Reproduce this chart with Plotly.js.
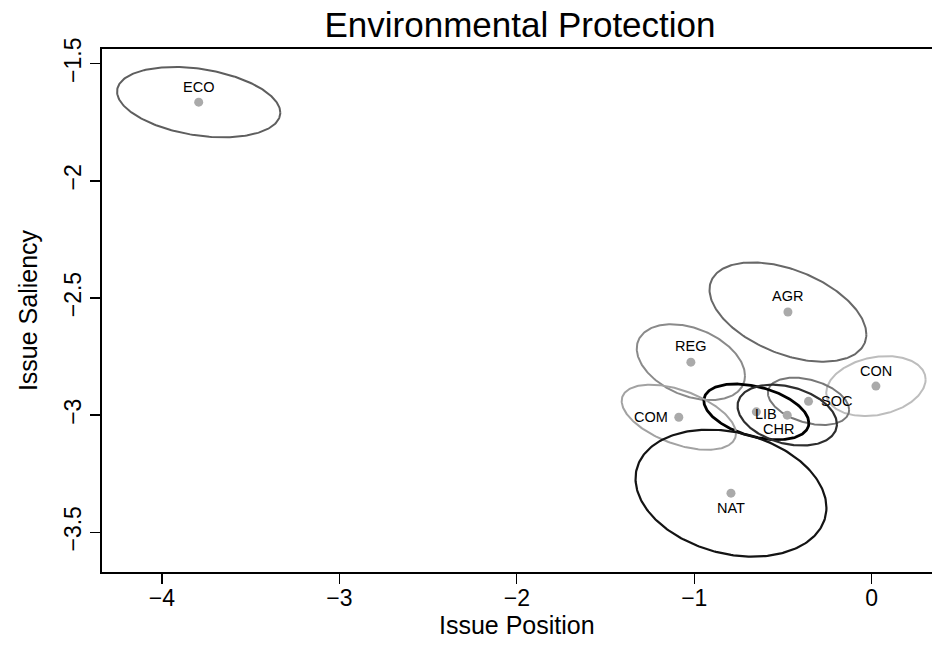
<!DOCTYPE html>
<html>
<head>
<meta charset="utf-8">
<script src="https://cdn.plot.ly/plotly-3.0.1.min.js"></script>
<style>
html,body{margin:0;padding:0;background:#fff;}
#chart{width:932px;height:653px;}
</style>
</head>
<body>
<div id="chart"></div>
<script>
// Party labels
var parties = ["ECO", "AGR", "REG", "CON", "SOC", "LIB", "CHR", "COM", "NAT"];
// Point estimates (issue position, issue saliency)
var posX = [-3.793, -0.472, -1.019, 0.024, -0.356, -0.650, -0.476, -1.087, -0.793];
var posY = [-1.664, -2.560, -2.774, -2.876, -2.941, -2.986, -3.000, -3.009, -3.333];
// Confidence ellipse half-extents (x and y units) and correlation
var ellA   = [0.460, 0.442, 0.305, 0.280, 0.229, 0.296, 0.280, 0.322, 0.538];
var ellB   = [0.150, 0.212, 0.162, 0.128, 0.101, 0.119, 0.130, 0.139, 0.271];
var ellRho = [-0.30, -0.45, -0.36, 0.22, -0.36, -0.40, -0.30, -0.50, -0.23];

// styles
var ellColors = ["#5e5e5e", "#686868", "#8a8a8a", "#bdbdbd", "#777777", "#000000", "#2e2e2e", "#a2a2a2", "#141414"];
var ellWidths = [2, 2, 2, 2, 2, 2.8, 2.2, 2, 2.2];
var labelShift = {
  ECO: [0, 15.5, "center"], AGR: [0, 15.7, "center"], REG: [0, 15.7, "center"],
  CON: [0, 15.3, "center"], NAT: [0, -15.3, "center"], COM: [-9, 0, "right"],
  SOC: [10, 0, "left"], LIB: [10, -2, "center"], CHR: [-9, -14, "center"]
};

var traces = [];
var N = 240;
for (var i = 0; i < parties.length; i++) {
  var xs = [], ys = [];
  var s = Math.sqrt(1 - ellRho[i] * ellRho[i]);
  for (var k = 0; k <= N; k++) {
    var t = 2 * Math.PI * k / N;
    xs.push(posX[i] + ellA[i] * Math.cos(t));
    ys.push(posY[i] + ellB[i] * (ellRho[i] * Math.cos(t) + s * Math.sin(t)));
  }
  traces.push({
    type: "scatter", mode: "lines", x: xs, y: ys,
    line: {color: ellColors[i], width: ellWidths[i]},
    hoverinfo: "skip", showlegend: false
  });
}
traces.push({
  type: "scatter", mode: "markers", x: posX, y: posY, text: parties,
  marker: {color: "#aaaaaa", size: 9}, showlegend: false, hoverinfo: "text"
});

var F = "Liberation Sans, Arial, sans-serif";
var annotations = parties.map(function (p, i) {
  var sh = labelShift[p];
  return {
    x: posX[i], y: posY[i], xref: "x", yref: "y", text: p, showarrow: false,
    xanchor: sh[2], yanchor: "middle", xshift: sh[0], yshift: sh[1],
    font: {family: F, size: 14.5, color: "#000"}
  };
});
// x-axis title
annotations.push({
  text: "Issue Position", xref: "paper", yref: "paper", x: 0.5, y: (572 - 625) / 523,
  xanchor: "center", yanchor: "middle", showarrow: false,
  font: {family: F, size: 25, color: "#000"}
});

var layout = {
  width: 932, height: 653,
  margin: {l: 102, r: 0, t: 49, b: 81, pad: 0},
  paper_bgcolor: "#fff", plot_bgcolor: "#fff",
  font: {family: F, color: "#000"},
  title: {text: "Environmental Protection", font: {family: F, size: 35, color: "#000"},
          x: 520 / 932, xref: "container", xanchor: "center", y: 1 - 25 / 653, yref: "container", yanchor: "middle"},
  xaxis: {
    range: [-4.338, 0.340], tickvals: [-4, -3, -2, -1, 0], ticktext: ["\u22124", "\u22123", "\u22122", "\u22121", "0"],
    showgrid: false, zeroline: false, showline: true, mirror: true, linecolor: "#000", linewidth: 2,
    ticks: "outside", ticklen: 10, tickwidth: 1.3, tickcolor: "#000", ticklabelstandoff: -6,
    tickfont: {family: F, size: 23, color: "#000"}
  },
  yaxis: {
    range: [-3.6696, -1.4372], tickvals: [-1.5, -2, -2.5, -3, -3.5],
    ticktext: ["\u22121.5", "\u22122", "\u22122.5", "\u22123", "\u22123.5"],
    tickangle: -90,
    showgrid: false, zeroline: false, showline: true, mirror: false, linecolor: "#000", linewidth: 2,
    ticks: "outside", ticklen: 10, tickwidth: 1.3, tickcolor: "#000",
    tickfont: {family: F, size: 23, color: "#000"},
    title: {text: "Issue Saliency", font: {family: F, size: 25, color: "#000"}, standoff: 15}
  },
  annotations: annotations
};

Plotly.newPlot("chart", traces, layout, {staticPlot: true, displayModeBar: false});
</script>
</body>
</html>
